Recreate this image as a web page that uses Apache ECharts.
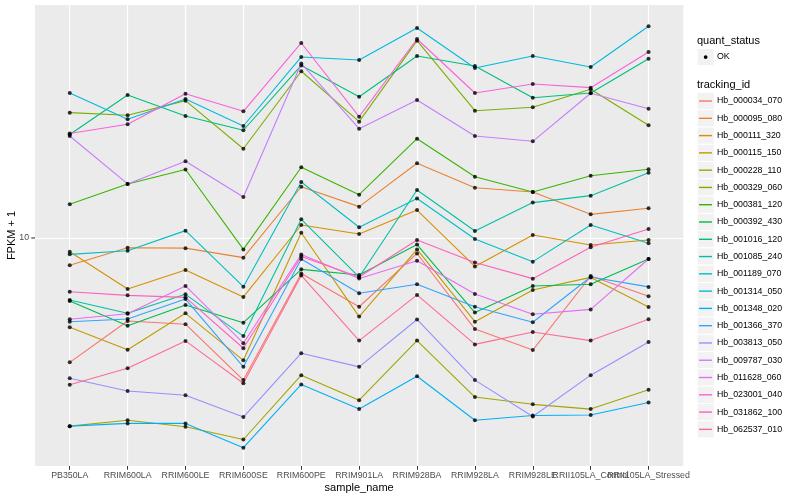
<!DOCTYPE html>
<html><head><meta charset="utf-8">
<script src="https://cdn.jsdelivr.net/npm/echarts@6/dist/echarts.min.js"></script>
<style>html,body{margin:0;padding:0;background:#fff}#c{width:800px;height:500px}</style>
</head><body><div id="c"></div>
<script>
const samples = ['PB350LA','RRIM600LA','RRIM600LE','RRIM600SE','RRIM600PE','RRIM901LA','RRIM928BA','RRIM928LA','RRIM928LE','RRII105LA_Control','RRII105LA_Stressed'];
const trackingIds = ['Hb_000034_070','Hb_000095_080','Hb_000111_320','Hb_000115_150','Hb_000228_110','Hb_000329_060','Hb_000381_120','Hb_000392_430','Hb_001016_120','Hb_001085_240','Hb_001189_070','Hb_001314_050','Hb_001348_020','Hb_001366_370','Hb_003813_050','Hb_009787_030','Hb_011628_060','Hb_023001_040','Hb_031862_100','Hb_062537_010'];
const yTickLabels = ['10'];
const quantStatus = ['OK'];

const Hb_000034_070 = [3.85, 5.29, 5.16, 3.36, 7.62, 5.90, 8.88, 4.97, 4.23, 7.47, 6.39];
const Hb_000095_080 = [8.11, 9.28, 9.25, 8.60, 14.82, 12.72, 17.74, 14.71, 14.23, 11.99, 12.56];
const Hb_000111_320 = [9.00, 6.76, 7.82, 6.36, 11.05, 10.31, 12.39, 8.04, 10.23, 9.48, 9.85];
const Hb_000115_150 = [5.04, 4.24, 5.61, 3.91, 10.41, 5.47, 9.16, 5.26, 6.71, 7.39, 5.89];
const Hb_000228_110 = [2.36, 2.47, 2.35, 2.13, 3.49, 2.88, 4.55, 2.95, 2.79, 2.69, 3.12];
const Hb_000329_060 = [26.17, 25.65, 28.69, 19.84, 35.95, 24.42, 45.47, 26.56, 27.27, 31.31, 23.75];
const Hb_000381_120 = [12.95, 15.14, 16.92, 9.16, 17.21, 13.94, 21.43, 16.01, 14.23, 16.13, 16.95];
const Hb_000392_430 = [6.17, 5.10, 5.98, 5.22, 7.86, 7.53, 9.51, 5.64, 6.92, 7.01, 8.51];
const Hb_001016_120 = [22.13, 29.97, 25.51, 22.86, 37.58, 29.58, 40.43, 37.44, 29.35, 30.43, 39.60];
const Hb_001085_240 = [6.21, 5.61, 6.49, 4.71, 11.54, 7.41, 14.45, 10.55, 13.12, 13.84, 16.51];
const Hb_001189_070 = [8.82, 9.07, 10.58, 6.88, 15.37, 10.86, 13.54, 9.92, 8.34, 11.05, 9.60];
const Hb_001314_050 = [30.43, 24.87, 29.06, 23.62, 40.12, 39.20, 50.12, 36.87, 40.43, 37.15, 50.78];
const Hb_001348_020 = [2.36, 2.41, 2.41, 2.00, 3.25, 2.69, 3.46, 2.47, 2.56, 2.57, 2.83];
const Hb_001366_370 = [5.26, 5.37, 6.26, 3.72, 8.51, 6.54, 7.01, 5.90, 5.24, 7.41, 6.87];
const Hb_003813_050 = [3.41, 3.09, 2.99, 2.53, 4.13, 3.72, 5.35, 3.36, 2.54, 3.49, 4.50];
const Hb_009787_030 = [21.88, 15.14, 18.02, 13.69, 38.17, 23.14, 28.84, 21.88, 21.00, 30.36, 26.97];
const Hb_011628_060 = [5.36, 5.59, 6.92, 4.46, 8.81, 7.33, 8.40, 6.51, 5.57, 5.78, 8.51];
const Hb_023001_040 = [22.30, 23.93, 30.27, 26.44, 44.67, 25.37, 46.06, 30.43, 32.60, 31.70, 41.69];
const Hb_031862_100 = [6.62, 6.44, 6.34, 4.29, 8.68, 7.41, 9.85, 8.29, 7.32, 9.31, 10.72];
const Hb_062537_010 = [3.24, 3.68, 4.54, 3.28, 7.50, 4.55, 6.46, 4.42, 4.86, 4.55, 5.36];

const seriesValues = [Hb_000034_070, Hb_000095_080, Hb_000111_320, Hb_000115_150, Hb_000228_110, Hb_000329_060, Hb_000381_120, Hb_000392_430, Hb_001016_120, Hb_001085_240, Hb_001189_070, Hb_001314_050, Hb_001348_020, Hb_001366_370, Hb_003813_050, Hb_009787_030, Hb_011628_060, Hb_023001_040, Hb_031862_100, Hb_062537_010];
const colors = ['#F8766D','#EA8331','#D89000','#C09B00','#A3A500','#7CAE00','#39B600','#00BB4E','#00BF7D','#00C1A3','#00BFC4','#00BAE0','#00B0F6','#35A2FF','#9590FF','#C77CFF','#E76BF3','#FA62DB','#FF62BC','#FF6C91'];

const FONT = 'Liberation Sans, Arial, Helvetica, sans-serif';
const xIdx = samples.map((s, i) => i);
const xEven = xIdx.filter(i => i % 2 === 0);
const xOdd = xIdx.filter(i => i % 2 === 1);

// panel geometry (layout only)
const PL = 35, PR = 683.3, PT = 5, PB = 466;
const KEY = 17.28, LX = 697, LEG_TOP = 92.4;

const lineSeries = trackingIds.map((id, k) => ({
  name: id, type: 'line', symbol: 'none', showSymbol: false, silent: true,
  xAxisIndex: 0, yAxisIndex: 0,
  data: seriesValues[k].map((v, i) => [i, v]),
  lineStyle: { color: colors[k], width: 1.1 },
  itemStyle: { color: colors[k] },
  z: 2
}));
const pointSeries = {
  name: 'quant_status', type: 'scatter', silent: true, symbol: 'circle', symbolSize: 4,
  xAxisIndex: 0, yAxisIndex: 0,
  data: seriesValues.flatMap(vals => vals.map((v, i) => [i, v])),
  itemStyle: { color: '#000' }, z: 3
};

const graphics = [];
graphics.push({ type: 'text', z: 10, style: { text: 'quant_status', x: LX, y: 41, fontSize: 11, fontFamily: FONT, fill: '#000', verticalAlign: 'middle' } });
graphics.push({ type: 'rect', z: 1, shape: { x: LX, y: 48.4, width: KEY, height: KEY }, style: { fill: '#F2F2F2', stroke: '#fff', lineWidth: 1 } });
graphics.push({ type: 'circle', z: 10, shape: { cx: LX + KEY / 2, cy: 48.4 + KEY / 2, r: 1.9 }, style: { fill: '#000' } });
graphics.push({ type: 'text', z: 10, style: { text: quantStatus[0], x: 717, y: 48.4 + KEY / 2, fontSize: 8.8, fontFamily: FONT, fill: '#000', verticalAlign: 'middle' } });
graphics.push({ type: 'text', z: 10, style: { text: 'tracking_id', x: LX, y: 85, fontSize: 11, fontFamily: FONT, fill: '#000', verticalAlign: 'middle' } });
trackingIds.forEach((id, k) => {
  graphics.push({ type: 'rect', z: 1, shape: { x: LX, y: LEG_TOP + k * KEY, width: KEY, height: KEY }, style: { fill: '#F2F2F2', stroke: '#fff', lineWidth: 1 } });
});

const xLabelStyle = { formatter: v => samples[Math.round(v)], color: '#4D4D4D', fontSize: 8.8, fontFamily: FONT, margin: 5, hideOverlap: false, showMinLabel: true, showMaxLabel: true };

const option = {
  animation: false,
  backgroundColor: '#fff',
  textStyle: { fontFamily: FONT },
  grid: { left: PL, right: 800 - PR, top: PT, bottom: 500 - PB, show: true, backgroundColor: '#EBEBEB', borderWidth: 0, containLabel: false, outerBoundsMode: 'none' },
  xAxis: [{
    type: 'value', min: -0.6, max: 10.6, position: 'bottom',
    axisLine: { show: false },
    axisTick: { show: true, customValues: xIdx, length: 3.7, lineStyle: { color: '#333333', width: 1 } },
    axisLabel: Object.assign({ customValues: xEven }, xLabelStyle),
    splitLine: { show: true, lineStyle: { color: '#FFFFFF', width: 1.2 } },
    name: 'sample_name', nameLocation: 'middle', nameGap: 16.5, nameMoveOverlap: false,
    nameTextStyle: { color: '#000', fontSize: 11, fontFamily: FONT }
  }, {
    type: 'value', min: -0.6, max: 10.6, position: 'bottom', offset: 0,
    axisLine: { show: false },
    axisTick: { show: false, customValues: xOdd },
    axisLabel: Object.assign({ customValues: xOdd }, xLabelStyle),
    splitLine: { show: false }
  }],
  yAxis: {
    type: 'log', logBase: 10, min: 1.738, max: 59.78,
    axisLine: { show: false },
    axisTick: { show: false },
    axisLabel: {
      formatter: v => (Math.abs(v - 10) < 1e-6 ? '{l|' + yTickLabels[0] + '}{t|}' : ''),
      margin: 0,
      rich: {
        l: { color: '#4D4D4D', fontSize: 8.8, fontFamily: FONT, padding: [0, 2.2, 0, 0] },
        t: { width: 3.7, height: 1.1, backgroundColor: '#333333' }
      }
    },
    splitLine: { show: true, showMinLine: false, showMaxLine: false, lineStyle: { color: '#FFFFFF', width: 1.2 } },
    name: 'FPKM + 1', nameLocation: 'middle', nameGap: 18, nameRotate: 90, nameMoveOverlap: false,
    nameTextStyle: { color: '#000', fontSize: 11, fontFamily: FONT }
  },
  legend: {
    orient: 'vertical', left: 699, top: LEG_TOP, padding: 0, itemGap: 0,
    itemWidth: 13, itemHeight: 1.4, icon: 'rect', selectedMode: false, z: 5,
    data: trackingIds.map((id, k) => ({ name: id, itemStyle: { color: colors[k] } })),
    textStyle: { fontFamily: FONT, fontSize: 8.8, color: '#000', lineHeight: KEY }
  },
  graphic: graphics,
  series: [...lineSeries, pointSeries]
};

const chart = echarts.init(document.getElementById('c'), null, { renderer: 'canvas' });
chart.setOption(option);
</script>
</body></html>
